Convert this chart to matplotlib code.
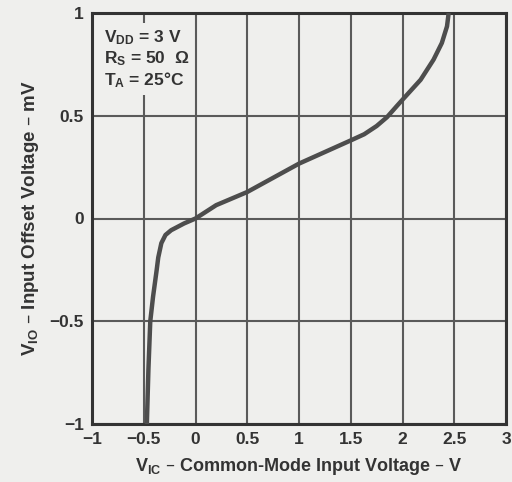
import matplotlib
matplotlib.use("Agg")
import matplotlib.pyplot as plt

plt.rcParams['font.family'] = ['Liberation Sans', 'DejaVu Sans']
plt.rcParams['font.weight'] = 'bold'
plt.rcParams['mathtext.default'] = 'regular'

# Data
vic = [-0.47, -0.455, -0.437, -0.41, -0.375, -0.36, -0.33, -0.29, -0.235, -0.11, 0.0,
       0.2, 0.5, 1.0, 1.5, 1.63, 1.75, 1.85, 1.95, 2.0, 2.175, 2.30, 2.38, 2.43, 2.446]
vio = [-1.0, -0.736, -0.5, -0.38, -0.25, -0.19, -0.12, -0.08, -0.057, -0.024, 0.0,
       0.065, 0.129, 0.267, 0.38, 0.41, 0.45, 0.493, 0.55, 0.578, 0.675, 0.773, 0.854, 0.935, 1.0]

xticks = [-1, -0.5, 0, 0.5, 1, 1.5, 2, 2.5, 3]
xticklabels = ['\u22121', '\u22120.5', '0', '0.5', '1', '1.5', '2', '2.5', '3']
yticks = [-1, -0.5, 0, 0.5, 1]
yticklabels = ['\u22121', '\u22120.5', '0', '0.5', '1']

paper = '#efefed'
ink = '#333333'
grid = '#5a5a5a'

fig = plt.figure(figsize=(5.12, 4.82), dpi=100, facecolor=paper)
ax = fig.add_axes([92/512, 1-424/482, (506-92)/512, (424-13)/482], facecolor=paper)

ax.set_xlim(-1, 3)
ax.set_ylim(-1, 1)
ax.set_xticks(xticks)
ax.set_xticklabels(xticklabels)
ax.set_yticks(yticks)
ax.set_yticklabels(yticklabels)
ax.tick_params(length=0, pad=6, labelsize=12.5, colors=ink)
for lab in ax.get_xticklabels() + ax.get_yticklabels():
    lab.set_fontweight('bold')

ax.grid(True, color=grid, linewidth=1.5, zorder=1)
ax.set_axisbelow(True)
for s in ax.spines.values():
    s.set_linewidth(2.2)
    s.set_color(ink)

ax.plot(vic, vio, color='#4d4d4d', linewidth=3.2, solid_capstyle='butt', zorder=3)

ax.text(0.028, 0.962,
        '$V_{DD}$ = 3 V\n$R_{S}$ = 50  \u03a9\n$T_{A}$ = 25\u00b0C',
        transform=ax.transAxes, ha='left', va='top', fontsize=12.5,
        fontweight='bold', color=ink, linespacing=1.15, zorder=4,
        bbox=dict(boxstyle='square,pad=0.3', facecolor=paper, edgecolor='none'))

ax.set_xlabel('$V_{IC}$ \u2013 Common-Mode Input Voltage \u2013 V',
              fontsize=13, fontweight='bold', color=ink, labelpad=6)
ax.set_ylabel('$V_{IO}$ \u2013 Input Offset Voltage \u2013 mV',
              fontsize=13.5, fontweight='bold', color=ink, labelpad=6)

fig.savefig('out.png', dpi=100, facecolor=paper)
